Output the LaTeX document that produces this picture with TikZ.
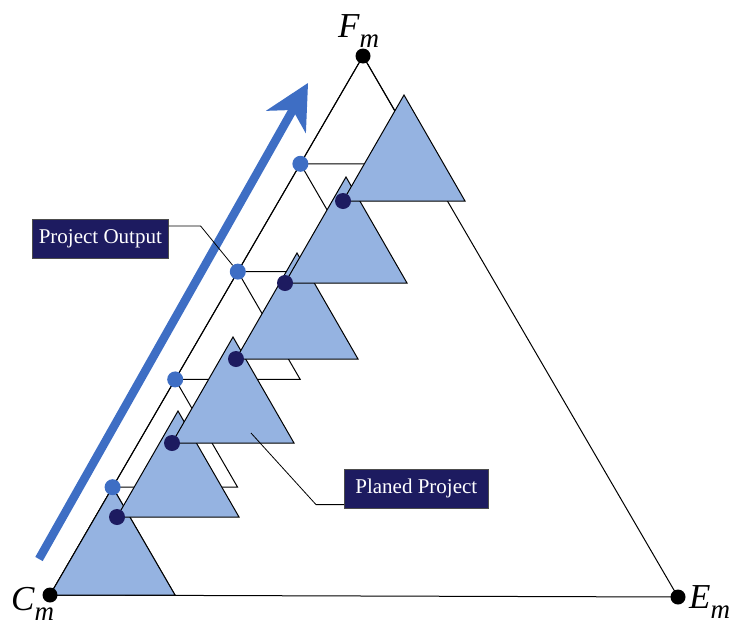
\documentclass[tikz,border=0pt]{standalone}
\usepackage{fontspec}
\setmainfont{Liberation Serif}
\usetikzlibrary{arrows.meta,calc,positioning}
\definecolor{ptBlue}{RGB}{62,110,196}
\definecolor{ptFill}{RGB}{149,179,225}
\definecolor{ptNavy}{RGB}{29,27,96}
\newcommand{\vertexlabel}[2]{%
  {\itshape #1}\raisebox{-10pt}{\fontsize{27}{27}\selectfont\itshape #2}%
}

\begin{document}
\begin{tikzpicture}[x=1pt,y=-1pt,
  tri/.style={draw=black,line width=1pt,line join=miter},
  proj/.style={tri,fill=ptFill},
  outdot/.style={circle,fill=ptBlue,inner sep=0pt,minimum size=16pt},
  plandot/.style={circle,fill=ptNavy,inner sep=0pt,minimum size=16pt},
  cornerdot/.style={circle,fill=black,inner sep=0pt,minimum size=15pt},
  tag/.style={fill=ptNavy,draw=black!70,line width=0.6pt,text=white,
    font=\fontsize{21}{24}\selectfont,inner sep=0pt,minimum height=39pt},
  callout/.style={draw=black,line width=0.8pt},
  vlabel/.style={font=\fontsize{35}{38}\selectfont,inner sep=0pt,anchor=base west}]
  \useasboundingbox (0,0) rectangle (733,627);
  \coordinate (C) at (50,595);
  \coordinate (F) at (363,56);
  \coordinate (E) at (678,597);
  \draw[line width=1pt] (C) -- (F) -- (E) -- cycle;

  % outputs stacked along C--F
  \foreach \k in {0,...,5}{
    \coordinate (P\k) at ($(C)!\k/5!(F)$);
  }
  \foreach \k [count=\n from 1] in {0,...,4}{
    \draw[tri] (P\k) -- (P\n) -- ($(P\k)+(125,0)$) -- cycle;
  }

  % planned projects
  \draw[proj] (C) -- (P1) -- ($(C)+(125,0)$) -- cycle;
  \foreach \x/\y [count=\i from 1] in {117/517,172/443,236/359,285/283,343/201}{
    \coordinate (D\i) at (\x,\y);
    \draw[proj] (D\i) -- ++(61,-106) -- ++(61,106) -- cycle;
  }

  % progress arrow
  \coordinate (arrowfoot) at (39,559);
  \coordinate (arrowtip) at (308,83);
  \draw[ptBlue,line width=8.5pt,
    -{Stealth[length=45pt,width=46pt,inset=14pt,line width=0pt]}]
    (arrowfoot) -- (arrowtip);

  \foreach \k in {1,...,4}
    \node[outdot] (o\k) at (P\k) {};
  \foreach \i in {1,...,5}
    \node[plandot] (d\i) at (D\i) {};
  \node[cornerdot] (c) at (C) {};
  \node[cornerdot] (f) at (F) {};
  \node[cornerdot] (e) at (E) {};

  % callouts
  \node[tag,anchor=north west,minimum width=136pt] (outtag) at (32,219) {Project Output};
  \node[tag,anchor=north west,minimum width=144pt] (plantag) at (344,469) {Planed Project};
  \coordinate (planpt) at (251,433);
  \draw[callout] ($(outtag.north east)+(0,7)$) -- ++(32,0) -- (o3);
  \draw[callout] ($(plantag.south west)+(0,-4)$) -- ++(-28,0) -- (planpt);

  \node[vlabel] (clab) at (11,610) {\vertexlabel{C}{m}};
  \node[vlabel] (elab) at (689,608) {\vertexlabel{E}{m}};
  \node[vlabel] (flab) at (338,37) {\vertexlabel{F}{m}};
\end{tikzpicture}
\end{document}
